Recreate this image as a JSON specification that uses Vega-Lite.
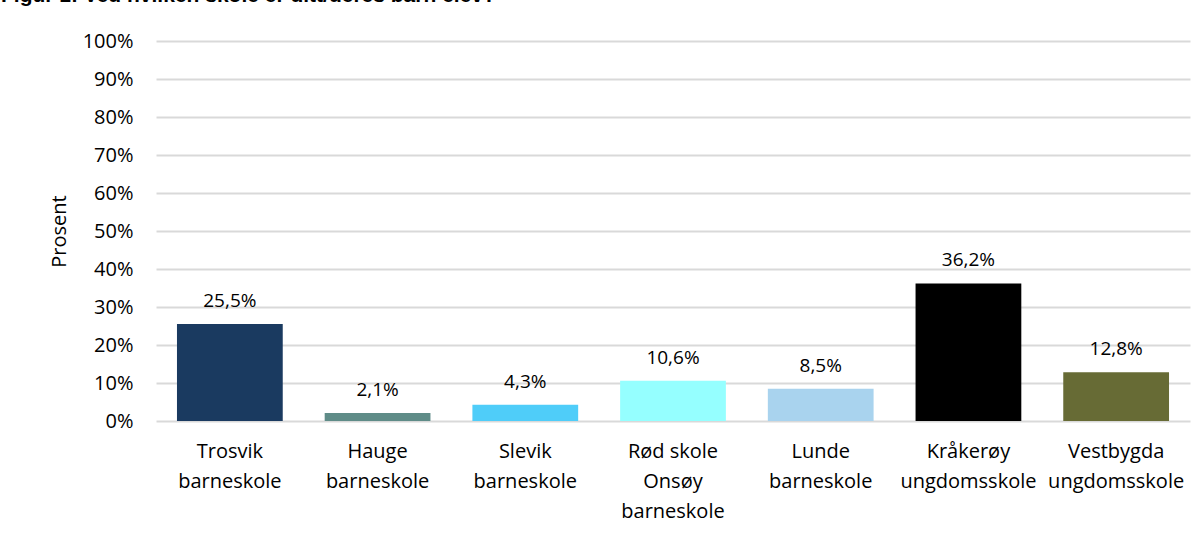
{
  "$schema": "https://vega.github.io/schema/vega-lite/v6.json",
  "autosize": "none",
  "width": 1034,
  "height": 380,
  "padding": {"left": 156, "top": 41, "right": 14, "bottom": 112},
  "background": "white",
  "title": {
    "text": "Figur 1: Ved hvilken skole er ditt/deres barn elev?",
    "anchor": "start",
    "frame": "group",
    "font": "Liberation Sans",
    "fontSize": 21,
    "fontWeight": "bold",
    "color": "#000000",
    "baseline": "alphabetic",
    "offset": 0,
    "dx": -155,
    "dy": -8
  },
  "data": {
    "values": [
      {"skole": "Trosvik barneskole", "andel": 0.255},
      {"skole": "Hauge barneskole", "andel": 0.021},
      {"skole": "Slevik barneskole", "andel": 0.043},
      {"skole": "Rød skole Onsøy barneskole", "andel": 0.106},
      {"skole": "Lunde barneskole", "andel": 0.085},
      {"skole": "Kråkerøy ungdomsskole", "andel": 0.362},
      {"skole": "Vestbygda ungdomsskole", "andel": 0.128}
    ]
  },
  "encoding": {
    "x": {
      "field": "skole",
      "type": "nominal",
      "sort": null,
      "scale": {"paddingInner": 0.284, "paddingOuter": 0.142},
      "axis": {
        "title": null,
        "labelAngle": 0,
        "labelFont": "Open Sans",
        "labelFontSize": 20,
        "labelColor": "#000000",
        "labelPadding": 20,
        "labelLineHeight": 30,
        "labelBaseline": "top",
        "labelExpr": "datum.label == 'Rød skole Onsøy barneskole' ? ['Rød skole', 'Onsøy', 'barneskole'] : split(datum.label, ' ')",
        "domain": false,
        "ticks": false,
        "grid": false
      }
    },
    "y": {
      "field": "andel",
      "type": "quantitative",
      "scale": {"domain": [0, 1], "nice": false},
      "axis": {
        "title": "Prosent",
        "titleFont": "Open Sans",
        "titleFontSize": 20,
        "titleFontWeight": "normal",
        "titleColor": "#000000",
        "titlePadding": 13,
        "format": ".0%",
        "values": [0, 0.1, 0.2, 0.3, 0.4, 0.5, 0.6, 0.7, 0.8, 0.9, 1],
        "labelFont": "Open Sans",
        "labelFontSize": 20,
        "labelColor": "#000000",
        "labelPadding": 23,
        "domain": false,
        "ticks": false,
        "grid": true,
        "gridColor": "#d9d9d9",
        "gridWidth": 2
      }
    }
  },
  "layer": [
    {
      "mark": {"type": "bar"},
      "encoding": {
        "color": {
          "field": "skole",
          "type": "nominal",
          "sort": null,
          "scale": {
            "domain": ["Trosvik barneskole", "Hauge barneskole", "Slevik barneskole", "Rød skole Onsøy barneskole", "Lunde barneskole", "Kråkerøy ungdomsskole", "Vestbygda ungdomsskole"],
            "range": ["#1a3a60", "#5f8c88", "#4fcdf9", "#95ffff", "#a9d3ee", "#000000", "#676b35"]
          },
          "legend": null
        }
      }
    },
    {
      "mark": {
        "type": "text",
        "font": "Open Sans",
        "fontSize": 19,
        "color": "#000000",
        "baseline": "alphabetic",
        "dy": -17
      },
      "encoding": {
        "text": {"field": "andel", "type": "quantitative", "format": ".1%"}
      }
    }
  ],
  "config": {
    "view": {"stroke": null},
    "locale": {
      "number": {"decimal": ",", "thousands": " ", "grouping": [3], "currency": ["", " kr"]}
    }
  }
}
